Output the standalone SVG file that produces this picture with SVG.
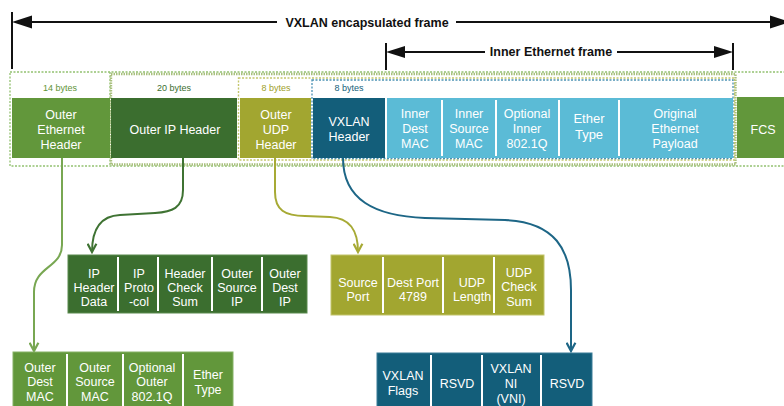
<svg xmlns="http://www.w3.org/2000/svg" width="784" height="406" viewBox="0 0 784 406">
  <style>
    text { font-family: "Liberation Sans", Arial, sans-serif; }
    .lbl { font-size: 12.5px; fill: #ffffff; text-anchor: middle; }
    .big { font-size: 13px; fill: #ffffff; text-anchor: middle; }
    .bytes { font-size: 9px; text-anchor: middle; }
    .title { font-size: 12.5px; font-weight: bold; fill: #111111; text-anchor: middle; }
    .dim { stroke: #111111; stroke-width: 2; fill: none; }
    .sep { stroke: #ffffff; stroke-width: 2; }
    .conn { fill: none; stroke-width: 2; }
    .eth { fill: #62973b; }
    .ip { fill: #3b6e2f; }
    .udp { fill: #a2a630; }
    .vx { fill: #135e7a; }
    .inner { fill: #5bbbd6; }
  </style>
  <defs>
    <marker id="arrEth" viewBox="0 0 10 10" refX="8.5" refY="5" markerUnits="userSpaceOnUse" markerWidth="11" markerHeight="11" orient="auto">
      <path d="M1,1 L8.5,5 L1,9" fill="none" stroke="#78a752" stroke-width="2"/>
    </marker>
    <marker id="arrIp" viewBox="0 0 10 10" refX="8.5" refY="5" markerUnits="userSpaceOnUse" markerWidth="11" markerHeight="11" orient="auto">
      <path d="M1,1 L8.5,5 L1,9" fill="none" stroke="#3f7333" stroke-width="2"/>
    </marker>
    <marker id="arrUdp" viewBox="0 0 10 10" refX="8.5" refY="5" markerUnits="userSpaceOnUse" markerWidth="11" markerHeight="11" orient="auto">
      <path d="M1,1 L8.5,5 L1,9" fill="none" stroke="#a7aa35" stroke-width="2"/>
    </marker>
    <marker id="arrVx" viewBox="0 0 10 10" refX="8.5" refY="5" markerUnits="userSpaceOnUse" markerWidth="11" markerHeight="11" orient="auto">
      <path d="M1,1 L8.5,5 L1,9" fill="none" stroke="#1d6686" stroke-width="2"/>
    </marker>
  </defs>

  <rect width="784" height="406" fill="#ffffff"/>

  <!-- frame span dimensions -->
  <g id="span-vxlan">
    <line class="dim" x1="12" y1="12" x2="12" y2="69"/>
    <line class="dim" x1="30" y1="22" x2="277" y2="22"/>
    <line class="dim" x1="456" y1="22" x2="770" y2="22"/>
    <polygon points="12,22 32,15.5 32,28.5" fill="#111111"/>
    <polygon points="790,22 770,15.5 770,28.5" fill="#111111"/>
    <text class="title" x="367" y="26.5">VXLAN encapsulated frame</text>
  </g>
  <g id="span-inner">
    <line class="dim" x1="386" y1="43" x2="386" y2="70"/>
    <line class="dim" x1="733" y1="43" x2="733" y2="70"/>
    <line class="dim" x1="403" y1="52" x2="485" y2="52"/>
    <line class="dim" x1="617" y1="52" x2="715" y2="52"/>
    <polygon points="386,52 405,46 405,58" fill="#111111"/>
    <polygon points="733,52 714,46 714,58" fill="#111111"/>
    <text class="title" x="551" y="56" font-size="12">Inner Ethernet frame</text>
  </g>

  <!-- dotted header spans -->
  <g id="spans">
    <rect x="10" y="72" width="800" height="94" fill="none" stroke="#93c170" stroke-width="1.3" stroke-dasharray="2 1.5"/>
    <line x1="110" y1="72" x2="110" y2="166" stroke="#93c170" stroke-width="1.3" stroke-dasharray="2 1.5"/>
    <rect x="111" y="74" width="624.5" height="90.5" fill="none" stroke="#a9c07e" stroke-width="2.4" stroke-dasharray="1.5 1"/>
    <rect x="238.5" y="78" width="496" height="82" fill="none" stroke="#c4c66c" stroke-width="1.4" stroke-dasharray="2 1.5"/>
    <rect x="312" y="80" width="421" height="78.5" fill="none" stroke="#4c92b4" stroke-width="1.3" stroke-dasharray="2 1.5"/>
    <text class="bytes" x="60" y="91" fill="#5f9438">14 bytes</text>
    <text class="bytes" x="174" y="91" fill="#3b6e2f">20 bytes</text>
    <text class="bytes" x="276" y="91" fill="#9ea02b">8 bytes</text>
    <text class="bytes" x="349" y="91" fill="#135e7a">8 bytes</text>
  </g>

  <!-- encapsulated frame headers -->
  <g id="outer-ethernet-header">
    <rect class="eth" x="12" y="98" width="98" height="60"/>
    <text class="lbl" x="61" y="118.5">Outer</text>
    <text class="lbl" x="61" y="133.5">Ethernet</text>
    <text class="lbl" x="61" y="148.5">Header</text>
  </g>
  <g id="outer-ip-header">
    <rect class="ip" x="111" y="98" width="126" height="60"/>
    <text class="lbl" x="175" y="133.5">Outer IP Header</text>
  </g>
  <g id="outer-udp-header">
    <rect class="udp" x="240" y="98" width="71" height="60"/>
    <text class="lbl" x="276" y="118.5">Outer</text>
    <text class="lbl" x="276" y="133.5">UDP</text>
    <text class="lbl" x="276" y="148.5">Header</text>
  </g>
  <g id="vxlan-header">
    <rect class="vx" x="313" y="98" width="72" height="60"/>
    <text class="lbl" x="349" y="125.5">VXLAN</text>
    <text class="lbl" x="349" y="140.5">Header</text>
  </g>
  <g id="inner-frame">
    <rect class="inner" x="387" y="98" width="346" height="60"/>
    <line class="sep" x1="442" y1="100" x2="442" y2="156"/>
    <line class="sep" x1="496" y1="100" x2="496" y2="156"/>
    <line class="sep" x1="559" y1="100" x2="559" y2="156"/>
    <line class="sep" x1="619" y1="100" x2="619" y2="156"/>
    <text class="lbl" x="415" y="117.5">Inner</text>
    <text class="lbl" x="415" y="132.5">Dest</text>
    <text class="lbl" x="415" y="147.5">MAC</text>
    <text class="lbl" x="469" y="117.5">Inner</text>
    <text class="lbl" x="469" y="132.5">Source</text>
    <text class="lbl" x="469" y="147.5">MAC</text>
    <text class="lbl" x="527" y="117.5">Optional</text>
    <text class="lbl" x="527" y="132.5">Inner</text>
    <text class="lbl" x="527" y="147.5">802.1Q</text>
    <text class="big" x="589" y="123">Ether</text>
    <text class="big" x="589" y="139">Type</text>
    <text class="lbl" x="675" y="118">Original</text>
    <text class="lbl" x="675" y="133">Ethernet</text>
    <text class="lbl" x="675" y="148">Payload</text>
  </g>
  <g id="fcs">
    <rect class="eth" x="737" y="97" width="50" height="61"/>
    <text class="lbl" x="763" y="133.5">FCS</text>
  </g>

  <!-- connectors from each header to its field breakdown -->
  <g id="connectors">
    <path class="conn" stroke="#78a752" d="M62,158 V245 C62,268 34,266 34,292 V351" marker-end="url(#arrEth)"/>
    <path class="conn" stroke="#3f7333" d="M183,158 V190 C183,208 172,212 155,213 L120,215 C98,216 92,232 92,252" marker-end="url(#arrIp)"/>
    <path class="conn" stroke="#a7aa35" d="M275,158 V192 C275,210 285,216 305,216 L330,217 C350,218 358,230 358,252" marker-end="url(#arrUdp)"/>
    <path class="conn" stroke="#1d6686" d="M343,158 C343,200 375,216 425,218 L505,220 C555,222 571,250 571,290 V351" marker-end="url(#arrVx)"/>
  </g>

  <!-- field breakdowns -->
  <g id="ip-fields">
    <rect class="ip" x="68" y="255" width="239" height="58" stroke="#5a8a4e" stroke-width="1"/>
    <line class="sep" x1="118" y1="257" x2="118" y2="311"/>
    <line class="sep" x1="158" y1="257" x2="158" y2="311"/>
    <line class="sep" x1="212" y1="257" x2="212" y2="311"/>
    <line class="sep" x1="262" y1="257" x2="262" y2="311"/>
    <text class="lbl" x="94" y="277.5">IP</text>
    <text class="lbl" x="94" y="291.5">Header</text>
    <text class="lbl" x="94" y="305.5">Data</text>
    <text class="lbl" x="139" y="277.5">IP</text>
    <text class="lbl" x="139" y="291.5">Proto</text>
    <text class="lbl" x="139" y="305.5">-col</text>
    <text class="lbl" x="185" y="277.5">Header</text>
    <text class="lbl" x="185" y="291.5">Check</text>
    <text class="lbl" x="185" y="305.5">Sum</text>
    <text class="lbl" x="237" y="277.5">Outer</text>
    <text class="lbl" x="237" y="291.5">Source</text>
    <text class="lbl" x="237" y="305.5">IP</text>
    <text class="lbl" x="285" y="277.5">Outer</text>
    <text class="lbl" x="285" y="291.5">Dest</text>
    <text class="lbl" x="285" y="305.5">IP</text>
  </g>
  <g id="udp-fields">
    <rect class="udp" x="331" y="255" width="213" height="60" stroke="#c2c46a" stroke-width="1"/>
    <line class="sep" x1="383" y1="257" x2="383" y2="313"/>
    <line class="sep" x1="443" y1="257" x2="443" y2="313"/>
    <line class="sep" x1="494" y1="257" x2="494" y2="313"/>
    <text class="lbl" x="358" y="286.5">Source</text>
    <text class="lbl" x="358" y="300.5">Port</text>
    <text class="lbl" x="413" y="286.5">Dest Port</text>
    <text class="lbl" x="413" y="300.5">4789</text>
    <text class="lbl" x="472" y="286.5">UDP</text>
    <text class="lbl" x="472" y="300.5">Length</text>
    <text class="lbl" x="519" y="276.5">UDP</text>
    <text class="lbl" x="519" y="291">Check</text>
    <text class="lbl" x="519" y="306">Sum</text>
  </g>
  <g id="outer-ethernet-fields">
    <rect class="eth" x="13" y="352" width="220" height="60" stroke="#86b266" stroke-width="1"/>
    <line class="sep" x1="67" y1="354" x2="67" y2="406"/>
    <line class="sep" x1="123" y1="354" x2="123" y2="406"/>
    <line class="sep" x1="183" y1="354" x2="183" y2="406"/>
    <text class="lbl" x="40" y="371.5">Outer</text>
    <text class="lbl" x="40" y="386">Dest</text>
    <text class="lbl" x="40" y="401">MAC</text>
    <text class="lbl" x="95" y="371.5">Outer</text>
    <text class="lbl" x="95" y="386">Source</text>
    <text class="lbl" x="95" y="401">MAC</text>
    <text class="lbl" x="152" y="371.5">Optional</text>
    <text class="lbl" x="152" y="386">Outer</text>
    <text class="lbl" x="152" y="401">802.1Q</text>
    <text class="lbl" x="208" y="378.5">Ether</text>
    <text class="lbl" x="208" y="394">Type</text>
  </g>
  <g id="vxlan-fields">
    <rect class="vx" x="377" y="353" width="215" height="60" stroke="#3b7d98" stroke-width="1"/>
    <line class="sep" x1="431" y1="355" x2="431" y2="406"/>
    <line class="sep" x1="482" y1="355" x2="482" y2="406"/>
    <line class="sep" x1="541" y1="355" x2="541" y2="406"/>
    <text class="lbl" x="403" y="379.5">VXLAN</text>
    <text class="lbl" x="403" y="395">Flags</text>
    <text class="lbl" x="457" y="387.5">RSVD</text>
    <text class="lbl" x="511" y="372.5">VXLAN</text>
    <text class="lbl" x="511" y="387.5">NI</text>
    <text class="lbl" x="511" y="403">(VNI)</text>
    <text class="lbl" x="567" y="387.5">RSVD</text>
  </g>
</svg>
